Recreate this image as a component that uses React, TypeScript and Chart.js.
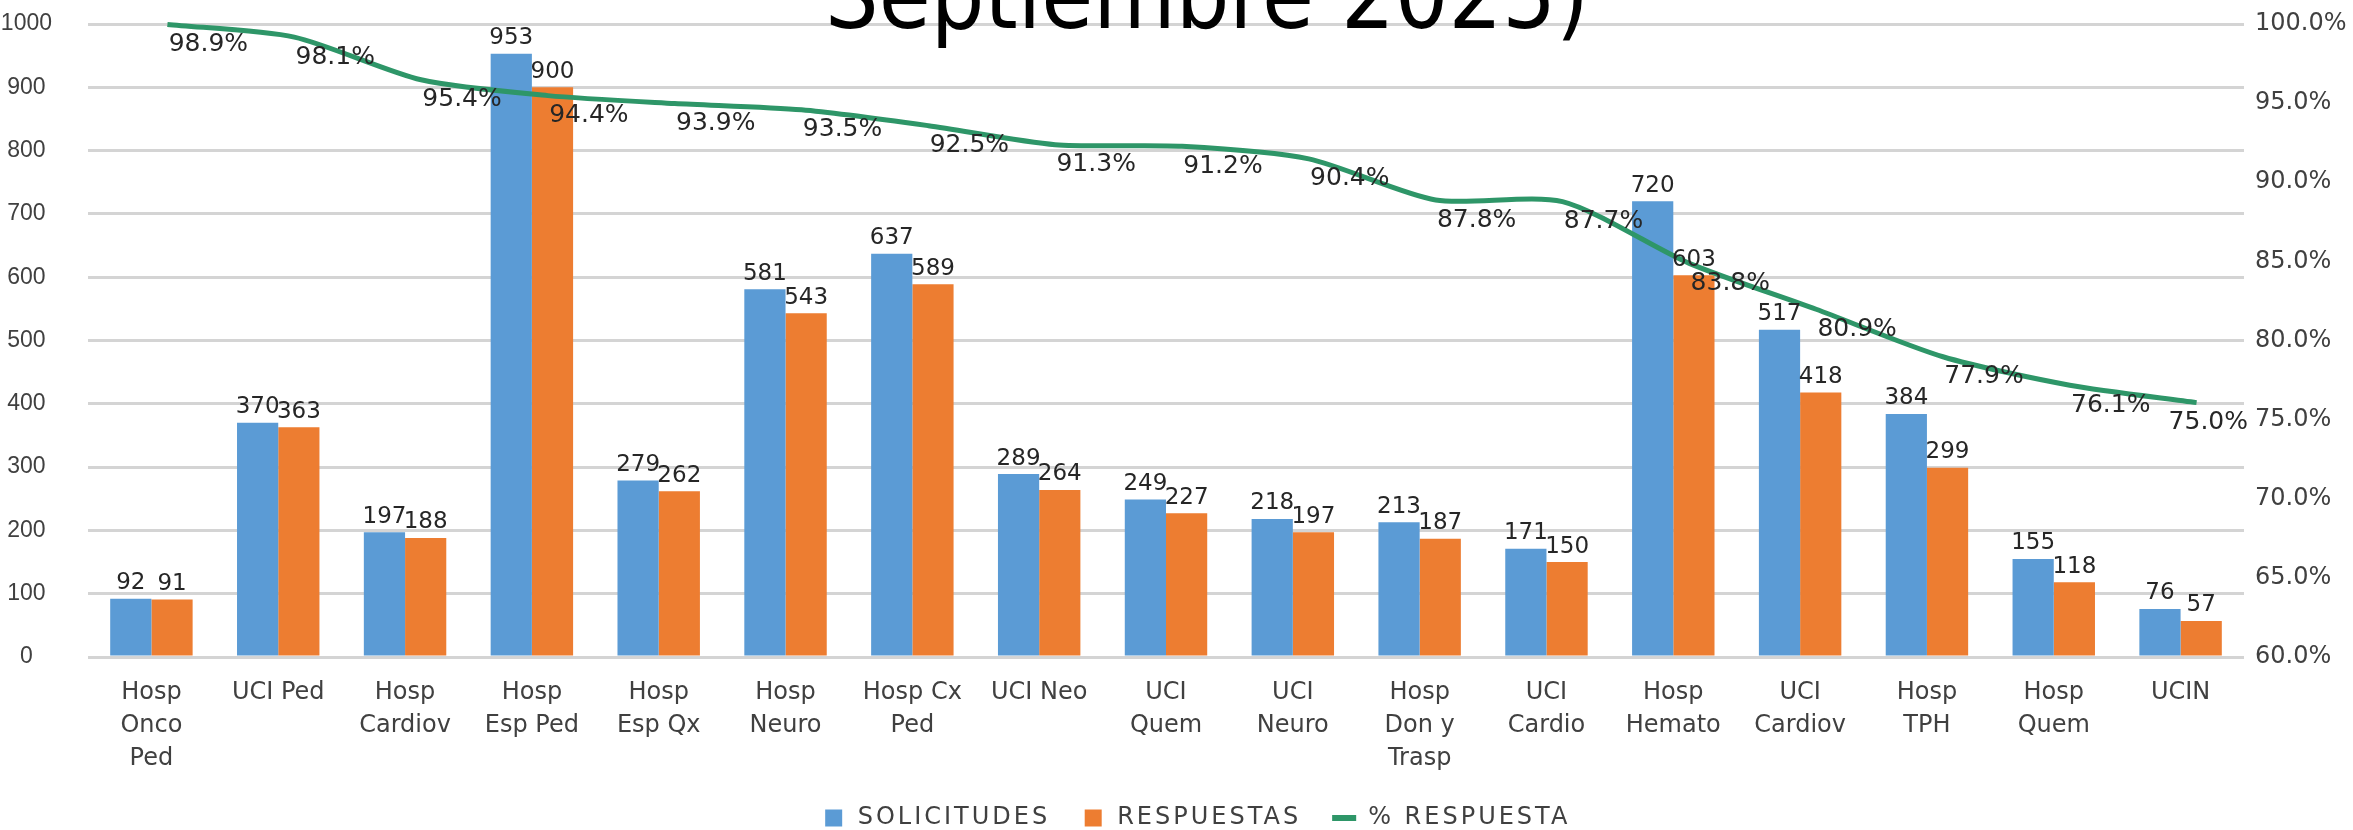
import React, { useEffect, useRef } from 'react';
import { Chart, registerables } from 'chart.js';

Chart.register(...registerables);

const categories: (string | string[])[] = [
  ['Hosp', 'Onco', 'Ped'],
  'UCI Ped',
  ['Hosp', 'Cardiov'],
  ['Hosp', 'Esp Ped'],
  ['Hosp', 'Esp Qx'],
  ['Hosp', 'Neuro'],
  ['Hosp Cx', 'Ped'],
  'UCI Neo',
  ['UCI', 'Quem'],
  ['UCI', 'Neuro'],
  ['Hosp', 'Don y', 'Trasp'],
  ['UCI', 'Cardio'],
  ['Hosp', 'Hemato'],
  ['UCI', 'Cardiov'],
  ['Hosp', 'TPH'],
  ['Hosp', 'Quem'],
  'UCIN',
];

const solicitudes = [92, 370, 197, 953, 279, 581, 637, 289, 249, 218, 213, 171, 720, 517, 384, 155, 76];
const respuestas = [91, 363, 188, 900, 262, 543, 589, 264, 227, 197, 187, 150, 603, 418, 299, 118, 57];
const pctRespuesta = [98.9, 98.1, 95.4, 94.4, 93.9, 93.5, 92.5, 91.3, 91.2, 90.4, 87.8, 87.7, 83.8, 80.9, 77.9, 76.1, 75.0];

const leftMin = 0;
const leftMax = 1000;
const leftStep = 100;
const rightMin = 60;
const rightMax = 100;
const rightStep = 5;

const titleText = 'Septiembre 2025)';
const seriesNames = ['SOLICITUDES', 'RESPUESTAS', '% RESPUESTA'];

const BLUE = '#5B9BD5';
const ORANGE = '#ED7D31';
const GREEN = '#2E9668';
const TEXT = '#404040';
const LABEL = '#262626';
const FONT = '"DejaVu Sans", "Liberation Sans", Arial, sans-serif';
const ARIAL = '"Liberation Sans", Arial, sans-serif';

// the percentage line in the source picture sits slightly offset from its axis
const LINE_SHIFT_X = 16;
const LINE_SHIFT_Y = -17;
const LEGEND_SHIFT_X = 22;

const lineShiftPlugin = {
  id: 'lineShift',
  beforeDatasetDraw(chart: any, args: any) {
    const ds = chart.data.datasets[args.index];
    if (ds.type === 'line') {
      chart.ctx.save();
      chart.ctx.translate(LINE_SHIFT_X, LINE_SHIFT_Y);
    }
  },
  afterDatasetDraw(chart: any, args: any) {
    const ds = chart.data.datasets[args.index];
    if (ds.type === 'line') chart.ctx.restore();
  },
};

const labelPlugin = {
  id: 'valueLabels',
  afterDatasetsDraw(chart: any) {
    const { ctx, chartArea } = chart;
    ctx.save();
    ctx.fillStyle = LABEL;
    chart.data.datasets.forEach((ds: any, di: number) => {
      const meta = chart.getDatasetMeta(di);
      if (meta.hidden) return;
      meta.data.forEach((el: any, i: number) => {
        if (ds.type === 'line') {
          ctx.font = `25px ${FONT}`;
          const txt = pctRespuesta[i].toFixed(1) + '%';
          const w = ctx.measureText(txt).width;
          let cx = el.x + LINE_SHIFT_X + 41;
          if (cx + w / 2 > chartArea.right + 4) cx = chartArea.right + 4 - w / 2;
          ctx.textAlign = 'center';
          ctx.textBaseline = 'middle';
          ctx.fillText(txt, cx, el.y + LINE_SHIFT_Y + 20);
        } else {
          ctx.font = `23px ${FONT}`;
          ctx.textAlign = 'center';
          ctx.textBaseline = 'bottom';
          ctx.fillText(String(ds.data[i]), el.x, el.y - 4);
        }
      });
    });
    ctx.restore();
  },
};

const titlePlugin = {
  id: 'clippedTitle',
  afterDraw(chart: any) {
    const { ctx } = chart;
    ctx.save();
    ctx.font = '94px "DejaVu Sans Condensed", "DejaVu Sans", sans-serif';
    ctx.fillStyle = '#000';
    ctx.textAlign = 'center';
    ctx.textBaseline = 'alphabetic';
    ctx.fillText(titleText, chart.width * 0.513, 28);
    ctx.restore();
  },
};

export default function App() {
  const ref = useRef<HTMLCanvasElement>(null);

  useEffect(() => {
    document.body.style.margin = '0';
    const canvas = ref.current;
    if (!canvas) return;
    const chart = new Chart(canvas, {
      type: 'bar',
      data: {
        labels: categories,
        datasets: [
          {
            type: 'bar',
            label: seriesNames[0],
            data: solicitudes,
            backgroundColor: BLUE,
            yAxisID: 'y',
            order: 1,
          } as any,
          {
            type: 'bar',
            label: seriesNames[1],
            data: respuestas,
            backgroundColor: ORANGE,
            yAxisID: 'y',
            order: 1,
          } as any,
          {
            type: 'line',
            label: seriesNames[2],
            data: pctRespuesta,
            borderColor: GREEN,
            backgroundColor: GREEN,
            borderWidth: 5,
            pointRadius: 0,
            tension: 0.25,
            fill: false,
            clip: false,
            yAxisID: 'y1',
            order: 0,
          } as any,
        ],
      },
      options: {
        animation: false,
        responsive: true,
        maintainAspectRatio: false,
        datasets: {
          bar: { categoryPercentage: 0.65, barPercentage: 1.0 },
        },
        layout: { padding: { top: 24, right: 7, bottom: 0, left: 2 } },
        plugins: {
          legend: {
            position: 'bottom',
            maxHeight: 55,
            labels: {
              usePointStyle: true,
              boxHeight: 17,
              padding: 31,
              color: TEXT,
              font: { size: 24, family: FONT },
              sort: (a: any, b: any) => a.datasetIndex - b.datasetIndex,
              generateLabels: (c: any) => {
                const items = Chart.defaults.plugins.legend.labels.generateLabels(c);
                return items.map((it: any) => {
                  const ds = c.data.datasets[it.datasetIndex];
                  if (ds.type === 'line') {
                    return { ...it, pointStyle: 'line', lineWidth: 6, strokeStyle: GREEN };
                  }
                  return { ...it, pointStyle: 'rect', lineWidth: 0 };
                });
              },
            },
          },
          tooltip: { enabled: false },
          title: { display: false },
        },
        scales: {
          x: {
            type: 'category',
            offset: true,
            grid: { display: false, drawTicks: false },
            border: { display: false },
            ticks: {
              color: TEXT,
              font: { size: 24, family: FONT, lineHeight: 1.375 },
              padding: 19,
              maxRotation: 0,
              autoSkip: false,
            },
            afterFit: (scale: any) => {
              scale.height = 118;
            },
          },
          y: {
            type: 'linear',
            position: 'left',
            min: leftMin,
            max: leftMax,
            grid: { color: '#D4D4D4', lineWidth: 3, drawTicks: false },
            border: { display: false },
            ticks: {
              stepSize: leftStep,
              color: TEXT,
              font: { size: 23, family: ARIAL },
              padding: 36,
              crossAlign: 'center',
              callback: (v: any) => String(v),
            },
            afterFit: (scale: any) => {
              scale.width = 86;
              scale.paddingTop = 0;
              scale.paddingBottom = 0;
            },
          },
          y1: {
            type: 'linear',
            position: 'right',
            min: rightMin,
            max: rightMax,
            grid: { display: false, drawTicks: false },
            border: { display: false },
            ticks: {
              stepSize: rightStep,
              color: TEXT,
              font: { size: 24, family: FONT },
              padding: 11,
              callback: (v: any) => Number(v).toFixed(1) + '%',
            },
            afterFit: (scale: any) => {
              scale.width = 102;
              scale.paddingTop = 0;
              scale.paddingBottom = 0;
            },
          },
        },
      } as any,
      plugins: [lineShiftPlugin, labelPlugin, titlePlugin],
    });

    // widen legend lettering like the source and nudge it as in the source
    const leg: any = (chart as any).legend;
    if (leg) {
      const ctx: any = chart.ctx;
      const fit0 = leg.fit;
      leg.fit = function (...a: any[]) {
        ctx.save();
        ctx.letterSpacing = '3px';
        try {
          return fit0.apply(this, a);
        } finally {
          ctx.restore();
        }
      };
      const draw0 = leg.draw;
      leg.draw = function (...a: any[]) {
        ctx.save();
        ctx.letterSpacing = '3px';
        ctx.translate(LEGEND_SHIFT_X, 0);
        try {
          return draw0.apply(this, a);
        } finally {
          ctx.restore();
        }
      };
      chart.update();
    }
    return () => chart.destroy();
  }, []);

  return (
    <div style={{ width: 2353, height: 830, position: 'relative', background: '#fff' }}>
      <canvas ref={ref} />
    </div>
  );
}
